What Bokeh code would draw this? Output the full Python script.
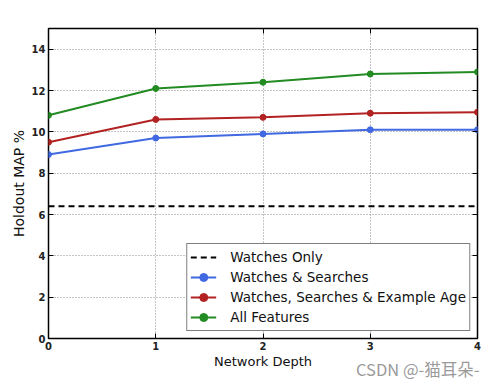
from bokeh.plotting import figure
from bokeh.models import Range1d, LinearAxis, FixedTicker, Legend, LegendItem, Div, CustomJSTickFormatter
from bokeh.layouts import column
from bokeh.embed import file_html
from bokeh.resources import INLINE

depth = [0, 1, 2, 3, 4]
watches_only = 6.4
watches_searches = [8.9, 9.7, 9.9, 10.1, 10.1]
watches_searches_age = [9.5, 10.6, 10.7, 10.9, 10.95]
all_features = [10.8, 12.1, 12.4, 12.8, 12.9]
series_labels = ["Watches Only", "Watches & Searches",
                 "Watches, Searches & Example Age", "All Features"]
x_ticks = [0, 1, 2, 3, 4]
y_ticks = [0, 2, 4, 6, 8, 10, 12, 14]
watermark = "CSDN @-猫耳朵-"

FONT = "DejaVu Sans"

p = figure(width=490, height=378, output_backend="svg", toolbar_location=None,
           x_range=Range1d(0, 4), y_range=Range1d(0, 15),
           min_border_left=48, min_border_top=28, min_border_right=13, min_border_bottom=40)
p.background_fill_color = "white"
p.border_fill_color = "white"
p.outline_line_color = "black"
p.outline_line_width = 1.5

for ax in [p.xaxis[0], p.yaxis[0]]:
    ax.major_tick_in = 5
    ax.major_tick_out = 0
    ax.minor_tick_line_color = None
    ax.axis_line_color = None
    ax.major_tick_line_color = "black"
    ax.major_label_text_font = FONT
    ax.major_label_text_font_size = "10px"
    ax.major_label_text_font_style = "bold"
    ax.major_label_text_color = "#222222"
    ax.axis_label_text_font = FONT
    ax.axis_label_text_font_style = "normal"
    ax.axis_label_text_color = "#111111"

p.xaxis[0].axis_label_text_font_size = "13px"
p.yaxis[0].axis_label_text_font_size = "14px"
p.xaxis[0].ticker = FixedTicker(ticks=x_ticks)
p.yaxis[0].ticker = FixedTicker(ticks=y_ticks)
p.xaxis[0].axis_label = "Network Depth"
p.yaxis[0].axis_label = "Holdout MAP %"
p.xaxis[0].major_label_standoff = 3
p.yaxis[0].major_label_standoff = 3
p.xaxis[0].axis_label_standoff = 1
p.yaxis[0].axis_label_standoff = 2

# mirrored ticks on top and right (no labels)
blank = CustomJSTickFormatter(code="return ''")
top_ax = LinearAxis(ticker=FixedTicker(ticks=x_ticks), major_tick_in=5, major_tick_out=0,
                    minor_tick_line_color=None, axis_line_color=None, formatter=blank,
                    major_label_text_font_size="1px", major_label_standoff=0)
right_ax = LinearAxis(ticker=FixedTicker(ticks=y_ticks), major_tick_in=5, major_tick_out=0,
                      minor_tick_line_color=None, axis_line_color=None, formatter=blank,
                      major_label_text_font_size="1px", major_label_standoff=0)
p.add_layout(top_ax, "above")
p.add_layout(right_ax, "right")

for g in [p.xgrid[0], p.ygrid[0]]:
    g.grid_line_color = "#888888"
    g.grid_line_dash = "1 2"
    g.grid_line_width = 1
p.xgrid[0].ticker = FixedTicker(ticks=x_ticks)
p.ygrid[0].ticker = FixedTicker(ticks=y_ticks)

items = []
r0 = p.line([depth[0], depth[-1]], [watches_only, watches_only], line_color="black",
            line_width=2, line_dash="6 4")
items.append(LegendItem(label=series_labels[0], renderers=[r0]))

colors = ["#4169e1", "#b22222", "#228b22"]
for lbl, ys, c in zip(series_labels[1:], [watches_searches, watches_searches_age, all_features], colors):
    rl = p.line(depth, ys, line_color=c, line_width=2)
    rs = p.scatter(depth, ys, size=6, fill_color=c, line_color=c)
    items.append(LegendItem(label=lbl, renderers=[rl, rs]))

legend = Legend(items=items, location="bottom_right")
legend.label_text_font = FONT
legend.label_text_font_size = "13.5px"
legend.label_text_color = "#111111"
legend.glyph_width = 26
legend.glyph_height = 20
legend.label_height = 20
legend.spacing = 0
legend.padding = 3
legend.margin = 7
legend.label_standoff = 14
legend.border_line_color = "black"
legend.border_line_width = 1.5
legend.background_fill_alpha = 1
p.add_layout(legend)

wm = Div(text=watermark, width=140, height=20, margin=(-19, 0, 0, 356),
         styles={"font-family": "Noto Sans CJK SC", "font-size": "16.5px",
                 "color": "#9a9a9a", "line-height": "20px", "white-space": "nowrap"})

layout = column(p, wm, spacing=0)
open("out.html", "w").write(file_html(layout, INLINE))
